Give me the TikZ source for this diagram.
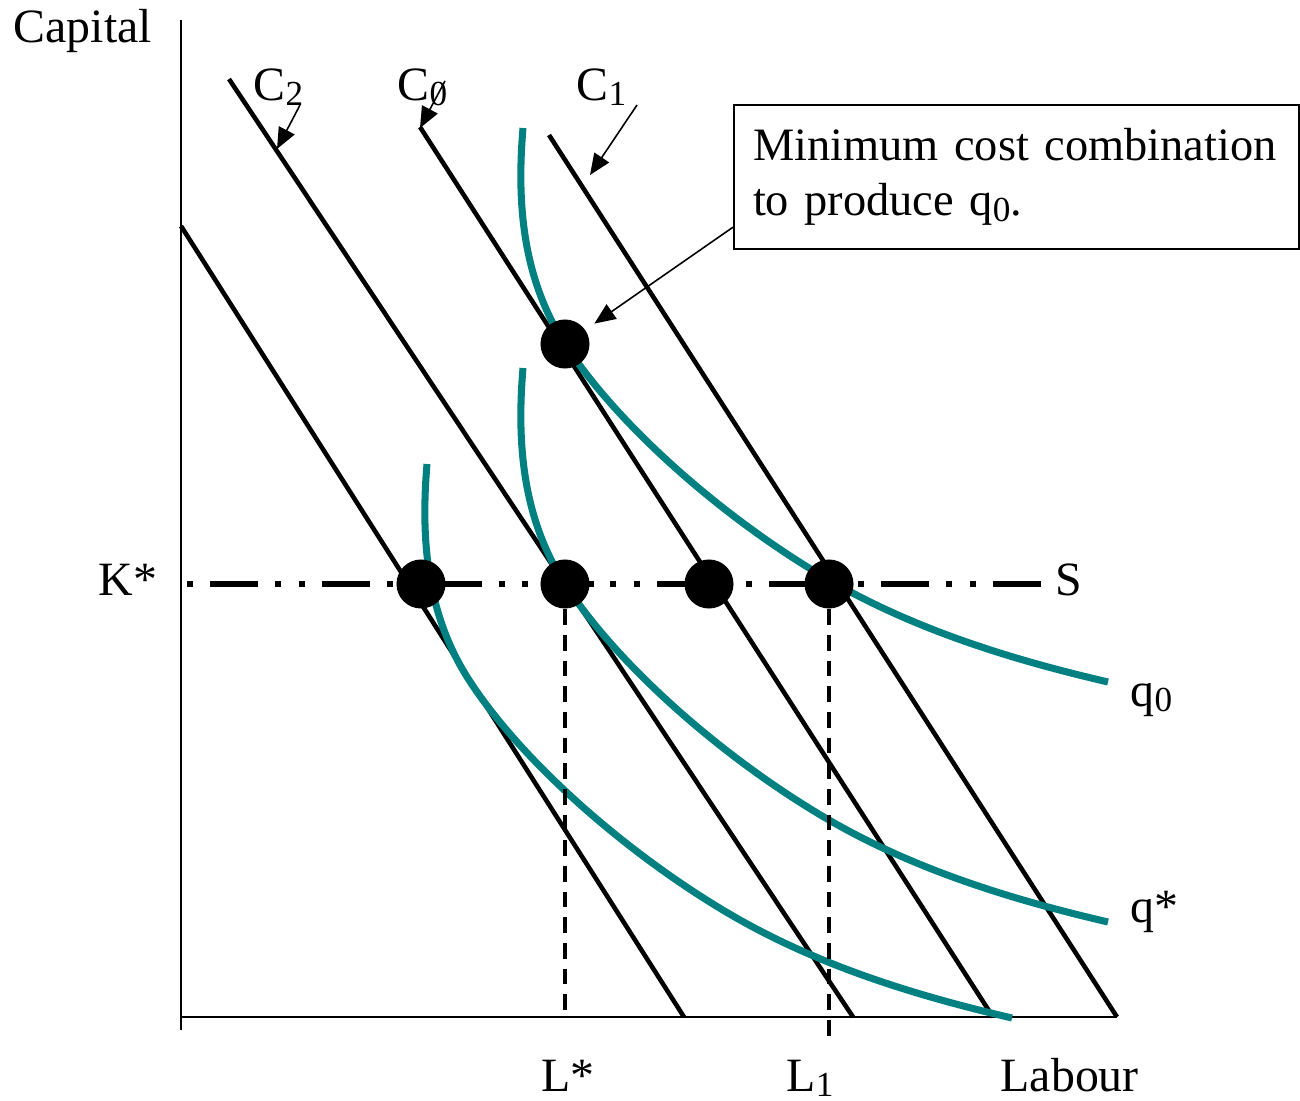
\documentclass[tikz,border=0pt]{standalone}
\usepackage{fontspec}
\setmainfont{Liberation Serif}
\usetikzlibrary{arrows.meta}
\definecolor{isoteal}{RGB}{0,128,128}
\newcommand\lowsub[1]{\raisebox{-0.25ex}{\fontsize{10}{10}\selectfont #1}}
\tikzset{
  axis/.style={line width=0.6pt},
  budget/.style={line width=1.3pt},
  iso/.style={isoteal, line width=2pt},
  drop/.style={line width=0.9pt, dash pattern=on 4.5pt off 2.8pt},
  expath/.style={line width=1.9pt, dash pattern=on 1.7pt off 4.8pt on 13.7pt off 4.8pt on 1.7pt off 5.1pt},
  ptr/.style={line width=0.45pt, -{Triangle[length=6pt,width=5pt]}},
  dot/.style={circle, fill=black, inner sep=0pt, minimum size=0.49cm},
  lbl/.style={inner sep=0pt, anchor=base west, font=\fontsize{13.6}{15.6}\selectfont},
  notebox/.style={draw, line width=0.6pt, anchor=north west, align=left,
    text width=5.27cm, inner xsep=0.19cm, minimum height=1.44cm,
    font=\fontsize{13.2}{15.6}\selectfont}
}
\begin{document}
\begin{tikzpicture}[x=0.01cm, y=-0.01cm]
  \useasboundingbox (0,0) rectangle (1300,1100);

  % Axes
  \draw[axis] (181,20) -- (181,1030);
  \draw[axis] (181,1017) -- (1117,1017);

  % Isocost lines
  \draw[budget] (181,226) -- (684,1017);
  \draw[budget] (229,79) -- (853,1017);
  \draw[budget] (420,127) -- (993,1017);
  \draw[budget] (549,135) -- (1117,1017);

  % Expansion path at K*
  \coordinate (s0) at (187,584);
  \coordinate (s1) at (1045,584);
  \draw[expath] (s0) -- (s1);

  % Isoquants (same curve, shifted)
  \foreach \dx/\dy in {0/0, 0/240, -96/336}
    \draw[iso, shift={(\dx,\dy)}] (523,128) .. controls (516,210) and (525,282) .. (565,344)
      .. controls (620,429) and (729,522) .. (829,580)
      .. controls (919,632) and (1018,661) .. (1108,682);

  % Points
  \node[dot] (dtop) at (565,344) {};
  \node[dot] (dA) at (421,584) {};
  \node[dot] (dKs) at (565,584) {};
  \node[dot] (dB) at (709,584) {};
  \node[dot] (dL1) at (829,584) {};

  % Drop lines
  \coordinate (Lstar) at (565,1017);
  \coordinate (Lone) at (829,1045);
  \draw[drop] (dKs) -- (Lstar);
  \draw[drop] (dL1) -- (Lone);

  % Axis and curve labels
  \node[lbl] (cap) at (13,42) {Capital};
  \node[lbl] (ks) at (98,595) {K*};
  \node[lbl] (sl) at (1055,595) {S};
  \node[lbl] (q0) at (1130,706) {q\lowsub{0}};
  \node[lbl] (qs) at (1130,922) {q*};
  \node[lbl] (ls) at (541,1091) {L*};
  \node[lbl] (l1) at (786,1091) {L\lowsub{1}};
  \node[lbl] (lab) at (1000,1091) {Labour};

  % Isocost labels
  \node[lbl] (lC2) at (253,100) {C\lowsub{2}};
  \node[lbl] (lC0) at (397,100) {C\lowsub{0}};
  \node[lbl] (lC1) at (576,100) {C\lowsub{1}};
  \coordinate (tC2) at (300,105);
  \coordinate (hC2) at (277,149);
  \coordinate (tC0) at (445,81);
  \coordinate (hC0) at (420,128);
  \coordinate (tC1) at (637,105);
  \coordinate (hC1) at (590,175);
  \draw[ptr] (tC2) -- (hC2);
  \draw[ptr] (tC0) -- (hC0);
  \draw[ptr] (tC1) -- (hC1);

  % Note box
  \node[notebox] (box) at (733,104) {Minimum cost combination\\to produce q\lowsub{0}.};
  \draw[ptr, shorten >=3pt] ([yshift=0.23cm]box.south west) -- (dtop);
\end{tikzpicture}
\end{document}
